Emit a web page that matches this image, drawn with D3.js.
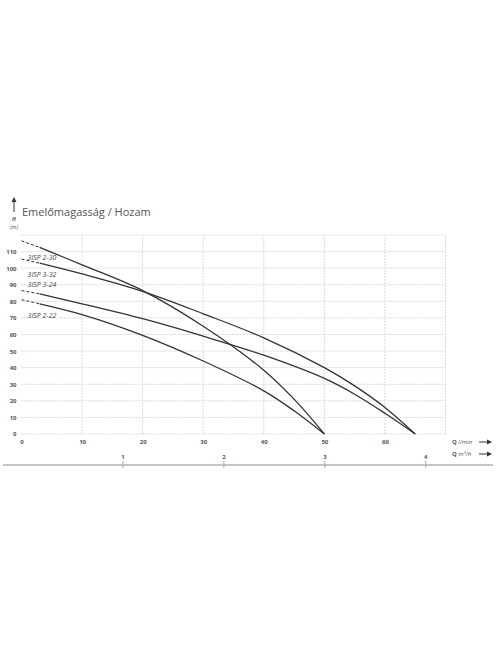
<!DOCTYPE html>
<html>
<head>
<meta charset="utf-8">
<script src="https://cdn.jsdelivr.net/npm/d3@7"></script>
<style>
  body { margin: 0; background: #fff; }
  svg { display: block; }
  .tick text { font-family: "Open Sans", "DejaVu Sans", sans-serif; font-weight: bold; fill: #555; }
</style>
</head>
<body>
<div id="chart"></div>
<script>
// DATA - Q in l/min, H in m
var flowTicks = [0, 10, 20, 30, 40, 50, 60];
var headTicks = [0, 10, 20, 30, 40, 50, 60, 70, 80, 90, 100, 110];
var m3Ticks = [1, 2, 3, 4];

var seriesNames = ["3ISP 2-30", "3ISP 3-32", "3ISP 3-24", "3ISP 2-22"];

var isp230Q = [0, 3, 10, 20, 30, 40, 45, 50];
var isp230H = [116.5, 112.5, 102, 86.5, 65, 38.5, 21, 0];

var isp332Q = [0, 3, 10, 20, 30, 40, 50, 55, 60, 65];
var isp332H = [105.5, 103, 96.5, 86, 72.5, 58, 40, 29, 16, 0];

var isp324Q = [0, 3, 10, 20, 30, 40, 50, 55, 60, 65];
var isp324H = [86.5, 84.5, 78.5, 69.5, 59, 47.5, 33.5, 24, 12.5, 0];

var isp222Q = [0, 3, 10, 20, 30, 40, 45, 50];
var isp222H = [81, 78.5, 72, 59.5, 44, 26, 14, 0];

// where the dashed start of each curve ends (l/min)
var dashEnd = 3;

// label anchors (Q, H)
var labelQ = [1, 1, 1, 1];
var labelH = [106.3, 96.4, 90.4, 71.7];

var W = 496, H = 664;
var svg = d3.select("#chart").append("svg")
  .attr("width", W)
  .attr("height", H);

var x = d3.scaleLinear().domain([0, 70]).range([21.5, 445.5]);
var y = d3.scaleLinear().domain([0, 120]).range([434, 235]);
// 70 l/min = 4.2 m3/h
var xm3 = d3.scaleLinear().domain([0, 4.2]).range([x(0), x(70)]);

// GRID
var grid = svg.append("g").attr("class", "grid");
grid.selectAll("line.h")
  .data(d3.range(0, 121, 10))
  .enter().append("line")
  .attr("class", "h")
  .attr("x1", x(0)).attr("x2", x(70))
  .attr("y1", function(d){ return y(d); })
  .attr("y2", function(d){ return y(d); })
  .attr("stroke", "#dadada")
  .attr("stroke-dasharray", "2,1");

grid.selectAll("line.v")
  .data(d3.range(10, 71, 10))
  .enter().append("line")
  .attr("class", "v")
  .attr("y1", y(0)).attr("y2", y(120))
  .attr("x1", function(d){ return x(d); })
  .attr("x2", function(d){ return x(d); })
  .attr("stroke", "#dadada")
  .attr("stroke-dasharray", "2,1");

// AXES
var yAxis = svg.append("g")
  .attr("transform", "translate(" + x(0) + ",0)")
  .call(d3.axisLeft(y).tickValues(headTicks).tickSize(0).tickPadding(5));
yAxis.select(".domain").remove();
yAxis.selectAll("text").style("font-size", "6px");

var xAxis = svg.append("g")
  .attr("transform", "translate(0," + y(0) + ")")
  .call(d3.axisBottom(x).tickValues(flowTicks).tickSize(0).tickPadding(6));
xAxis.select(".domain").remove();
xAxis.selectAll("text").style("font-size", "6px");

// second flow axis in m3/h
svg.append("line")
  .attr("x1", 3).attr("x2", 493)
  .attr("y1", 465).attr("y2", 465)
  .attr("stroke", "#8a8a8a")
  .attr("stroke-width", 1);

var m3Axis = svg.append("g")
  .attr("transform", "translate(0,468)")
  .call(d3.axisTop(xm3).tickValues(m3Ticks).tickFormat(d3.format("d")).tickSize(7).tickPadding(2));
m3Axis.select(".domain").remove();
m3Axis.selectAll("line").attr("stroke", "#aaa");
m3Axis.selectAll("text").style("font-size", "6px");

// CURVES
var allQ = [isp230Q, isp332Q, isp324Q, isp222Q];
var allH = [isp230H, isp332H, isp324H, isp222H];

var line = d3.line()
  .x(function(d){ return x(d.q); })
  .y(function(d){ return y(d.h); })
  .curve(d3.curveCatmullRom.alpha(0.5));

var curves = svg.append("g").attr("class", "curves");
for (var i = 0; i < allQ.length; i++) {
  var pts = allQ[i].map(function(q, j){ return {q: q, h: allH[i][j]}; });
  var dashed = pts.filter(function(d){ return d.q <= dashEnd; });
  var solid = pts.filter(function(d){ return d.q >= dashEnd; });

  curves.append("path")
    .attr("d", line(dashed))
    .attr("fill", "none")
    .attr("stroke", "#333")
    .attr("stroke-width", 1)
    .attr("stroke-dasharray", "3,2");

  curves.append("path")
    .attr("d", line(solid))
    .attr("fill", "none")
    .attr("stroke", "#333")
    .attr("stroke-width", 1.3);

  curves.append("text")
    .attr("x", x(labelQ[i]))
    .attr("y", y(labelH[i]))
    .attr("dy", "0.35em")
    .style("font-family", "'Liberation Sans Narrow', 'Open Sans', sans-serif")
    .style("font-style", "italic")
    .style("font-size", "7px")
    .attr("fill", "#444")
    .text(seriesNames[i]);
}

// TITLE
svg.append("text")
  .attr("x", 22).attr("y", 216)
  .style("font-family", "'Open Sans', sans-serif")
  .style("font-size", "11px")
  .attr("fill", "#555")
  .text("Emelőmagasság / Hozam");

// H arrow
svg.append("line")
  .attr("x1", 14).attr("x2", 14)
  .attr("y1", 212).attr("y2", 201)
  .attr("stroke", "#333").attr("stroke-width", 1);
svg.append("path")
  .attr("d", "M11.5,202 L14,197 L16.5,202 Z")
  .attr("fill", "#333");

svg.append("text")
  .attr("x", 14).attr("y", 221)
  .attr("text-anchor", "middle")
  .style("font-family", "'Open Sans', sans-serif")
  .style("font-style", "italic")
  .style("font-weight", "bold")
  .style("font-size", "5.5px")
  .attr("fill", "#555")
  .text("H");
svg.append("text")
  .attr("x", 14).attr("y", 229)
  .attr("text-anchor", "middle")
  .style("font-family", "'Open Sans', sans-serif")
  .style("font-style", "italic")
  .style("font-size", "5.5px")
  .attr("fill", "#555")
  .text("(m)");

// Q labels with arrows
var qLabels = [
  {y: 444, unit: "l/min"},
  {y: 456, unit: "m³/h"}
];
qLabels.forEach(function(d){
  var t = svg.append("text")
    .attr("x", 452).attr("y", d.y)
    .style("font-family", "'Open Sans', sans-serif")
    .style("font-style", "italic")
    .style("font-size", "6px")
    .attr("fill", "#555");
  t.append("tspan").style("font-weight", "bold").style("font-style", "normal").text("Q ");
  t.append("tspan").text(d.unit);

  svg.append("line")
    .attr("x1", 479).attr("x2", 489)
    .attr("y1", d.y - 2).attr("y2", d.y - 2)
    .attr("stroke", "#333").attr("stroke-width", 1);
  svg.append("path")
    .attr("d", "M487," + (d.y - 4.5) + " L492," + (d.y - 2) + " L487," + (d.y + 0.5) + " Z")
    .attr("fill", "#333");
});
</script>
</body>
</html>
